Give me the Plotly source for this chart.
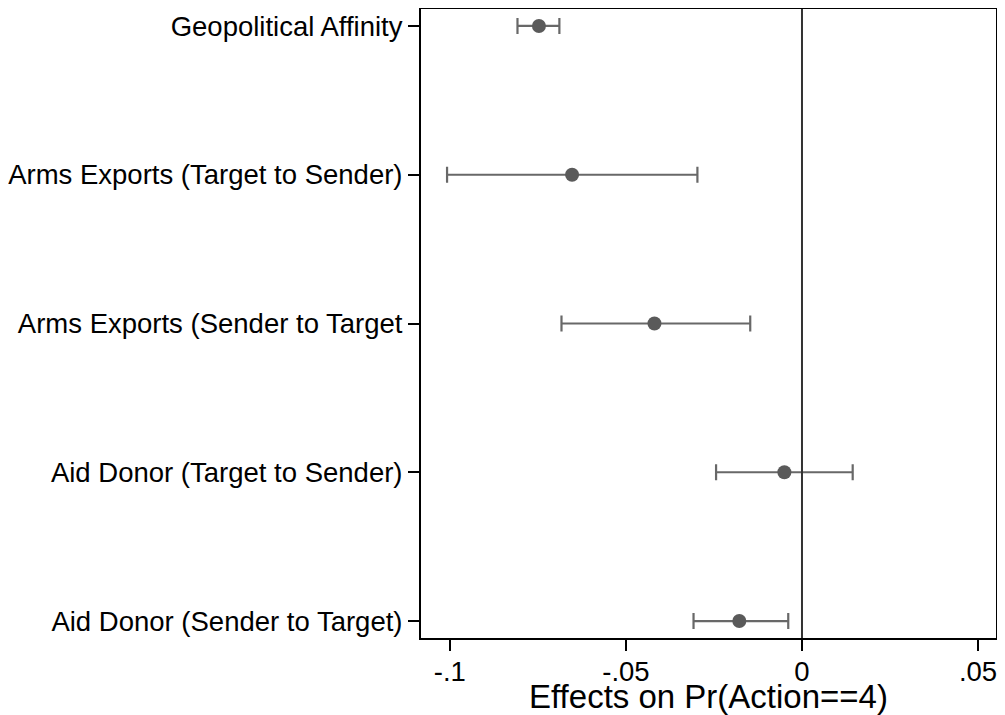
import plotly.graph_objects as go

# coefficient estimates and 95% CIs, top to bottom
labels = [
    "Geopolitical Affinity",
    "Arms Exports (Target to Sender)",
    "Arms Exports (Sender to Target",
    "Aid Donor (Target to Sender)",
    "Aid Donor (Sender to Target)",
]
estimate = [-0.0747, -0.0653, -0.0419, -0.0050, -0.0178]
ci_low = [-0.0808, -0.1008, -0.0683, -0.0244, -0.0308]
ci_high = [-0.0689, -0.0297, -0.0147, 0.0144, -0.0039]

x_ticks = [-0.1, -0.05, 0, 0.05]
x_ticktext = ["-.1", "-.05", "0", ".05"]

pos = list(range(len(labels)))
err_plus = [h - e for h, e in zip(ci_high, estimate)]
err_minus = [e - l for e, l in zip(estimate, ci_low)]

fig = go.Figure()
fig.add_trace(go.Scatter(
    x=estimate, y=pos, mode="markers",
    marker=dict(size=14, color="#5a5a5a"),
    error_x=dict(type="data", symmetric=False, array=err_plus, arrayminus=err_minus,
                 color="#686868", thickness=2.2, width=8),
    showlegend=False,
))

fig.add_vline(x=0, line=dict(color="#333333", width=2))

# page body adds an 8px offset; keep the whole figure inside the visible area
fig.update_layout(
    width=989, height=707,
    margin=dict(l=413, r=1, t=1, b=77),
    paper_bgcolor="white", plot_bgcolor="white",
    font=dict(family="Liberation Sans, Arial, sans-serif", size=27.5, color="black"),
)
fig.update_xaxes(
    range=[-0.1082, 0.0551], tickvals=x_ticks, ticktext=x_ticktext,
    showgrid=False, zeroline=False, showline=True, linecolor="black", linewidth=2,
    mirror=True, ticks="outside", ticklen=11, tickwidth=2, tickcolor="black",
    ticklabelstandoff=-3, ticklabeloverflow="allow", automargin=False,
    title=dict(text="Effects on Pr(Action==4)", standoff=8),
)
fig.update_yaxes(
    range=[4.114, -0.114], tickvals=pos, ticktext=labels,
    showgrid=False, zeroline=False, showline=True, linecolor="black", linewidth=2,
    mirror=True, ticks="outside", ticklen=11, tickwidth=2, tickcolor="black",
    automargin=False,
)

fig.write_html("out.html")
